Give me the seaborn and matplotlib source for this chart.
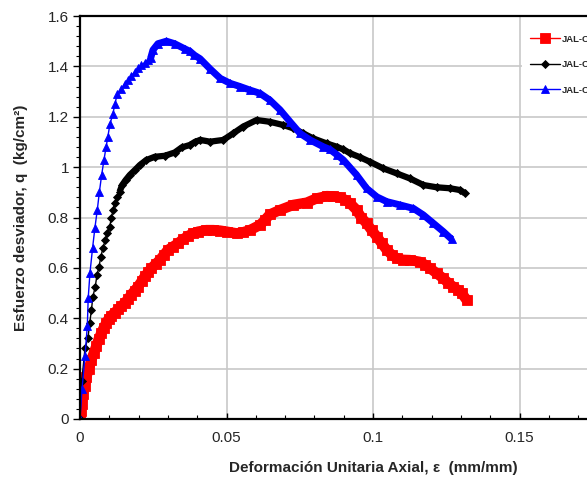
import matplotlib
matplotlib.use("Agg")
import matplotlib.pyplot as plt
from matplotlib.ticker import MultipleLocator, FuncFormatter
import seaborn as sns

# Triaxial test curves: axial strain (mm/mm) vs deviator stress (kg/cm2)
labels = ["JAL-C1", "JAL-C2", "JAL-C3"]
colors = ["#ff0000", "#000000", "#0000ff"]
markers = ["s", "D", "^"]

eps_red = [0.0000, 0.0002, 0.0006, 0.0010, 0.0016, 0.0022, 0.0030, 0.0039, 0.0047, 0.0056,
           0.0064, 0.0073, 0.0081, 0.0090, 0.0098, 0.0107, 0.0118, 0.0130, 0.0141, 0.0152,
           0.0164, 0.0175, 0.0187, 0.0198, 0.0210, 0.0221, 0.0232, 0.0243, 0.0258, 0.0272,
           0.0286, 0.0300, 0.0317, 0.0334, 0.0351, 0.0369, 0.0386, 0.0403, 0.0431, 0.0455,
           0.0478, 0.0500, 0.0535, 0.0558, 0.0580, 0.0614, 0.0631, 0.0648, 0.0683, 0.0728,
           0.0774, 0.0808, 0.0842, 0.0865, 0.0887, 0.0905, 0.0922, 0.0944, 0.0960, 0.0978,
           0.0995, 0.1013, 0.1030, 0.1047, 0.1064, 0.1081, 0.1103, 0.1126, 0.1160, 0.1178,
           0.1195, 0.1218, 0.1240, 0.1257, 0.1274, 0.1290, 0.1303, 0.1320]
q_red = [0.000, 0.030, 0.060, 0.100, 0.130, 0.168, 0.200, 0.235, 0.262, 0.290,
         0.318, 0.342, 0.362, 0.382, 0.398, 0.410, 0.422, 0.435, 0.448, 0.460,
         0.476, 0.494, 0.510, 0.526, 0.546, 0.566, 0.582, 0.598, 0.615, 0.631,
         0.651, 0.671, 0.684, 0.697, 0.713, 0.727, 0.737, 0.744, 0.750, 0.750,
         0.748, 0.744, 0.737, 0.742, 0.750, 0.770, 0.790, 0.812, 0.830, 0.850,
         0.859, 0.876, 0.885, 0.884, 0.880, 0.870, 0.856, 0.830, 0.800, 0.777,
         0.750, 0.724, 0.697, 0.671, 0.652, 0.638, 0.632, 0.631, 0.624, 0.612,
         0.598, 0.578, 0.558, 0.540, 0.525, 0.512, 0.499, 0.472]

eps_black = [0.0000, 0.0006, 0.0017, 0.0027, 0.0033, 0.0039, 0.0044, 0.0052, 0.0058, 0.0065,
             0.0071, 0.0078, 0.0086, 0.0093, 0.0101, 0.0107, 0.0113, 0.0118, 0.0127, 0.0135,
             0.0144, 0.0156, 0.0170, 0.0187, 0.0204, 0.0226, 0.0255, 0.0289, 0.0323, 0.0347,
             0.0375, 0.0392, 0.0410, 0.0444, 0.0489, 0.0523, 0.0557, 0.0603, 0.0648, 0.0694,
             0.0728, 0.0762, 0.0796, 0.0842, 0.0876, 0.0899, 0.0922, 0.0956, 0.0990, 0.1035,
             0.1081, 0.1126, 0.1172, 0.1217, 0.1263, 0.1297, 0.1314]
q_black = [0.000, 0.150, 0.280, 0.320, 0.380, 0.433, 0.486, 0.525, 0.572, 0.605,
           0.644, 0.677, 0.710, 0.737, 0.763, 0.797, 0.830, 0.856, 0.882, 0.902,
           0.929, 0.949, 0.969, 0.988, 1.008, 1.028, 1.041, 1.045, 1.058, 1.078,
           1.088, 1.100, 1.108, 1.101, 1.108, 1.134, 1.161, 1.187, 1.180, 1.167,
           1.154, 1.134, 1.114, 1.094, 1.081, 1.070, 1.055, 1.039, 1.021, 0.995,
           0.975, 0.955, 0.929, 0.920, 0.916, 0.909, 0.896]

eps_blue = [0.0000, 0.0007, 0.0017, 0.0025, 0.0028, 0.0034, 0.0043, 0.0051, 0.0059, 0.0066,
            0.0074, 0.0082, 0.0089, 0.0095, 0.0102, 0.0112, 0.0119, 0.0127, 0.0141, 0.0152,
            0.0164, 0.0175, 0.0187, 0.0198, 0.0209, 0.0221, 0.0232, 0.0241, 0.0249, 0.0266,
            0.0295, 0.0323, 0.0357, 0.0375, 0.0390, 0.0410, 0.0444, 0.0478, 0.0512, 0.0546,
            0.0580, 0.0614, 0.0648, 0.0683, 0.0717, 0.0751, 0.0785, 0.0830, 0.0853, 0.0876,
            0.0899, 0.0944, 0.0978, 0.1013, 0.1047, 0.1092, 0.1138, 0.1172, 0.1206, 0.1240,
            0.1269]
q_blue = [0.000, 0.120, 0.250, 0.370, 0.480, 0.580, 0.680, 0.760, 0.830, 0.900,
          0.970, 1.030, 1.080, 1.120, 1.170, 1.210, 1.250, 1.290, 1.310, 1.330,
          1.346, 1.362, 1.379, 1.392, 1.405, 1.415, 1.425, 1.432, 1.465, 1.490,
          1.500, 1.490, 1.470, 1.460, 1.445, 1.430, 1.390, 1.353, 1.333, 1.320,
          1.306, 1.293, 1.266, 1.227, 1.180, 1.134, 1.108, 1.081, 1.070, 1.050,
          1.028, 0.969, 0.916, 0.882, 0.863, 0.850, 0.836, 0.810, 0.777, 0.744,
          0.713]

series = [(eps_red, q_red), (eps_black, q_black), (eps_blue, q_blue)]
# index from which the recorded points are packed tightly enough to form a solid band
dense_from = [0, 19, 27]
band_width = [7.5, 4.5, 5.0]
marker_size = [6.5, 4.4, 6.0]

sns.set_theme(style="white")
plt.rcParams["font.family"] = ["Liberation Sans", "DejaVu Sans"]

fig = plt.figure(figsize=(5.87, 4.8), dpi=100)
ax = fig.add_axes([80 / 587, 61 / 480, 586 / 587, 403 / 480])

handles = []
for (x, y), lab, c, m, k, bw, ms in zip(series, labels, colors, markers,
                                        dense_from, band_width, marker_size):
    sns.lineplot(x=x[k:], y=y[k:], ax=ax, sort=False, estimator=None,
                 color=c, lw=bw, legend=False, solid_capstyle="butt")
    sns.lineplot(x=x, y=y, ax=ax, sort=False, estimator=None, color=c, lw=1.0,
                 marker=m, markersize=ms, markeredgecolor=c, markeredgewidth=0.6,
                 legend=False)
    handles.append(ax.lines[-1])

ax.set_xlim(0, 0.2)
ax.set_ylim(0, 1.6)
ax.xaxis.set_major_locator(MultipleLocator(0.05))
ax.xaxis.set_minor_locator(MultipleLocator(0.01))
ax.yaxis.set_major_locator(MultipleLocator(0.2))
ax.yaxis.set_minor_locator(MultipleLocator(0.04))
fmt = FuncFormatter(lambda v, p: f"{v:g}" if v < 0.19 else "")
ax.xaxis.set_major_formatter(fmt)
ax.yaxis.set_major_formatter(FuncFormatter(lambda v, p: f"{v:g}"))

ax.set_axisbelow(True)
ax.grid(True, which="major", color="#c8c8c8", lw=1.2)
for s in ax.spines.values():
    s.set_color("black")
    s.set_linewidth(1.6)

ax.tick_params(axis="y", which="major", direction="out", length=5, width=1,
               color="black", labelsize=11, pad=3, left=True)
ax.tick_params(axis="y", which="minor", direction="out", length=3, width=0.8,
               color="black", left=True)
ax.tick_params(axis="x", which="major", direction="in", length=4, width=1,
               color="black", labelsize=11, pad=9, bottom=True)
ax.tick_params(axis="x", which="minor", direction="in", length=3, width=0.8,
               color="black", bottom=True)

ax.set_xlabel("Deformación Unitaria Axial, ε  (mm/mm)", fontsize=11,
              fontweight="bold", labelpad=11)
ax.set_ylabel("Esfuerzo desviador, q  (kg/cm²)", fontsize=11,
              fontweight="bold", labelpad=14)

leg = ax.legend(handles, labels, loc="upper left",
                bbox_to_anchor=(517 / 587, 1 - 22 / 480), bbox_transform=fig.transFigure,
                frameon=True, facecolor="white", edgecolor="none", framealpha=1,
                fancybox=False, prop={"size": 6.8, "weight": "bold"},
                handlelength=3.2, handletextpad=0.2, labelspacing=1.75,
                borderpad=0.85)
for h in leg.legend_handles:
    h.set_linewidth(1.0)

fig.savefig("out.png", dpi=100)
